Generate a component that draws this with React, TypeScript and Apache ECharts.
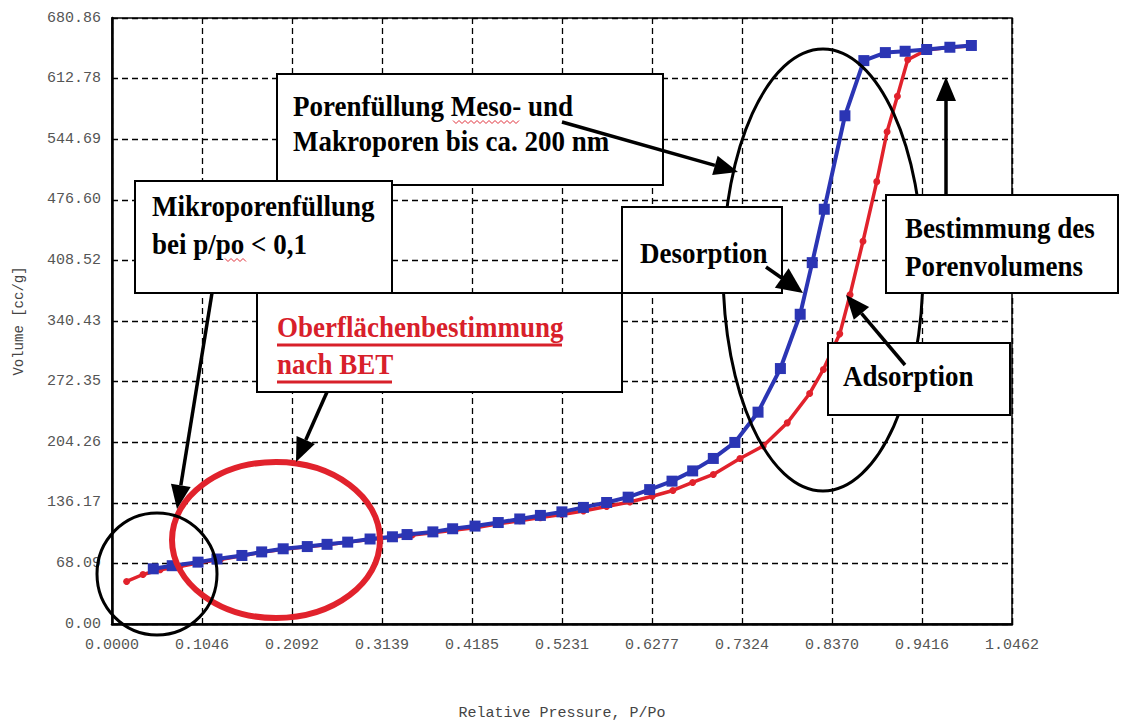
import React, { useEffect, useRef } from "react";
import * as echarts from "echarts";

// Axis tick labels
const xTickLabels = ["0.0000", "0.1046", "0.2092", "0.3139", "0.4185", "0.5231", "0.6277", "0.7324", "0.8370", "0.9416", "1.0462"];
const yTickLabels = ["0.00", "68.09", "136.17", "204.26", "272.35", "340.43", "408.52", "476.60", "544.69", "612.78", "680.86"];
const xStep = 0.104622;
const yStep = 68.0863;

// Desorption branch (relative pressure, volume cc/g)
const desorptionP = [0.048, 0.07, 0.1, 0.122, 0.151, 0.174, 0.199, 0.227, 0.25, 0.274, 0.3, 0.326, 0.343, 0.373, 0.396, 0.422, 0.449, 0.474, 0.498, 0.523, 0.548, 0.575, 0.6, 0.625, 0.651, 0.675, 0.699, 0.724, 0.751, 0.777, 0.8, 0.814, 0.828, 0.852, 0.874, 0.899, 0.922, 0.947, 0.974, 0.999];
const desorptionV = [62, 65.5, 69.5, 73, 77, 81, 84.5, 87, 89.5, 92, 95.5, 98, 100.5, 103.5, 107, 110, 114, 118, 122, 126, 131, 136.5, 142.5, 151, 160.5, 172, 186, 204, 238, 287, 348, 406, 466, 571, 633, 642, 643.5, 645.5, 648, 650];

// Adsorption branch
const adsorptionP = [0.017, 0.036, 0.056, 0.079, 0.102, 0.126, 0.149, 0.174, 0.199, 0.224, 0.25, 0.274, 0.3, 0.326, 0.349, 0.373, 0.399, 0.424, 0.449, 0.474, 0.498, 0.523, 0.548, 0.575, 0.602, 0.628, 0.652, 0.675, 0.699, 0.73, 0.757, 0.785, 0.811, 0.827, 0.846, 0.858, 0.873, 0.889, 0.901, 0.913, 0.925, 0.947, 0.974, 0.999];
const adsorptionV = [47.8, 55.6, 61, 64.5, 69, 72.5, 76.5, 80.5, 84, 86.5, 89, 92, 95, 97.5, 100, 102.5, 105.5, 108.5, 112.5, 116, 119.5, 123, 127, 132, 137, 143.5, 150, 159, 168, 186, 200, 226, 259, 286, 326, 370, 430, 497, 553, 593, 634, 645, 648, 649.5];

const SERIF = "'Liberation Serif', 'DejaVu Serif', serif";
const MONO = "'Liberation Mono', 'DejaVu Sans Mono', monospace";
const BLUE = "#2b35b4";
const RED = "#e1222c";

function arrow(x1: number, y1: number, x2: number, y2: number, head = 24, half = 10, width = 3.5) {
  const dx = x2 - x1;
  const dy = y2 - y1;
  const len = Math.hypot(dx, dy);
  const ux = dx / len;
  const uy = dy / len;
  const bx = x2 - ux * head;
  const by = y2 - uy * head;
  const px = -uy;
  const py = ux;
  return [
    { type: "line", z: 120, shape: { x1, y1, x2: bx, y2: by }, style: { stroke: "#000", lineWidth: width } },
    {
      type: "polygon",
      z: 120,
      shape: { points: [[x2, y2], [bx + px * half, by + py * half], [bx - px * half, by - py * half]] },
      style: { fill: "#000" },
    },
  ];
}

function box(x: number, y: number, w: number, h: number) {
  return { type: "rect", z: 110, shape: { x, y, width: w, height: h }, style: { fill: "#fff", stroke: "#000", lineWidth: 2 } };
}

function label(text: string, x: number, y: number, color = "#000") {
  return {
    type: "text",
    z: 115,
    x,
    y,
    scaleY: 1.1,
    style: { text, fontFamily: SERIF, fontWeight: "bold", fontSize: 27, fill: color, textVerticalAlign: "middle" },
  };
}

function squiggle(x1: number, x2: number, y: number) {
  const pts: number[][] = [];
  let up = true;
  for (let x = x1; x <= x2; x += 3) {
    pts.push([x, up ? y - 1.5 : y + 1.5]);
    up = !up;
  }
  return { type: "polyline", z: 116, shape: { points: pts }, style: { stroke: "#e0303a", lineWidth: 1, fill: "none" } };
}

export default function App() {
  const ref = useRef<HTMLDivElement>(null);

  useEffect(() => {
    if (!ref.current) return;
    const chart = echarts.init(ref.current, undefined, { renderer: "svg" });

    const graphic: any[] = [
      // ellipses
      { type: "ellipse", z: 105, shape: { cx: 276, cy: 540, rx: 104, ry: 78 }, style: { fill: "none", stroke: RED, lineWidth: 6 } },
      { type: "ellipse", z: 105, shape: { cx: 157, cy: 574, rx: 60, ry: 61 }, style: { fill: "none", stroke: "#000", lineWidth: 3 } },
      { type: "ellipse", z: 105, shape: { cx: 823, cy: 270, rx: 100, ry: 221 }, style: { fill: "none", stroke: "#000", lineWidth: 3 } },
      // boxes
      box(277, 74, 386, 111),
      box(135, 181, 257, 112),
      box(257, 293, 365, 99),
      box(622, 207, 160, 86),
      box(886, 195, 232, 98),
      box(828, 343, 182, 72),
      // texts
      label("Porenfüllung Meso- und", 293, 106),
      label("Makroporen bis ca. 200 nm", 293, 141),
      label("Mikroporenfüllung", 152, 206),
      label("bei p/po < 0,1", 152, 244),
      label("Oberflächenbestimmung", 277, 327, "#d8202a"),
      label("nach BET", 277, 364, "#d8202a"),
      label("Desorption", 640, 253),
      label("Bestimmung des", 905, 228),
      label("Porenvolumens", 905, 266),
      label("Adsorption", 843, 376),
      // underlines
      { type: "line", z: 116, shape: { x1: 277, y1: 345, x2: 562, y2: 345 }, style: { stroke: "#d8202a", lineWidth: 3 } },
      { type: "line", z: 116, shape: { x1: 277, y1: 382, x2: 392, y2: 382 }, style: { stroke: "#d8202a", lineWidth: 3 } },
      squiggle(453, 520, 122),
      squiggle(225, 248, 260),
      // arrows
      ...arrow(212, 293, 177, 509),
      ...arrow(327, 392, 296, 462),
      ...arrow(562, 122, 738, 172),
      ...arrow(766, 267, 803, 293, 26, 12),
      ...arrow(905, 365, 846, 295),
      ...arrow(946, 195, 946, 77),
    ];

    chart.setOption({
      animation: false,
      backgroundColor: "#fff",
      grid: { left: 112, right: 111, top: 18, bottom: 96, show: true, borderColor: "#000", borderWidth: 1.5, backgroundColor: "transparent" },
      xAxis: {
        type: "value",
        min: 0,
        max: xStep * 10,
        interval: xStep,
        name: "Relative Pressure, P/Po",
        nameLocation: "middle",
        nameGap: 82,
        nameTextStyle: { fontFamily: MONO, fontSize: 15, color: "#444" },
        axisLine: { show: true, lineStyle: { color: "#000", width: 2.5 } },
        axisTick: { show: true, inside: true, length: 6, lineStyle: { color: "#000", width: 1 } },
        axisLabel: {
          formatter: (v: number) => xTickLabels[Math.round(v / xStep)] ?? "",
          fontFamily: MONO,
          fontSize: 15,
          color: "#555",
          margin: 14,
          showMinLabel: true,
          showMaxLabel: true,
        },
        splitLine: { show: true, lineStyle: { color: "#000", type: [6, 4], width: 1.3 } },
      },
      yAxis: {
        type: "value",
        min: 0,
        max: yStep * 10,
        interval: yStep,
        name: "Volume [cc/g]",
        nameLocation: "middle",
        nameGap: 86,
        nameTextStyle: { fontFamily: MONO, fontSize: 14, color: "#444" },
        axisLine: { show: true, lineStyle: { color: "#000", width: 2.5 } },
        axisTick: { show: false },
        axisLabel: {
          formatter: (v: number) => yTickLabels[Math.round(v / yStep)] ?? "",
          fontFamily: MONO,
          fontSize: 15,
          color: "#555",
          margin: 11,
          showMinLabel: true,
          showMaxLabel: true,
        },
        splitLine: { show: true, lineStyle: { color: "#000", type: [6, 4], width: 1.3 } },
      },
      series: [
        {
          name: "Adsorption",
          type: "line",
          data: adsorptionP.map((p, i) => [p, adsorptionV[i]]),
          symbol: "circle",
          symbolSize: 7,
          itemStyle: { color: RED },
          lineStyle: { color: RED, width: 3.5 },
          z: 3,
        },
        {
          name: "Desorption",
          type: "line",
          data: desorptionP.map((p, i) => [p, desorptionV[i]]),
          symbol: "rect",
          symbolSize: 11,
          itemStyle: { color: BLUE },
          lineStyle: { color: BLUE, width: 4 },
          z: 4,
        },
      ],
      graphic,
    });

    return () => chart.dispose();
  }, []);

  return (
    <div
      ref={ref}
      style={{ position: "fixed", left: 0, top: 0, width: 1123, height: 726, background: "#fff" }}
    />
  );
}
